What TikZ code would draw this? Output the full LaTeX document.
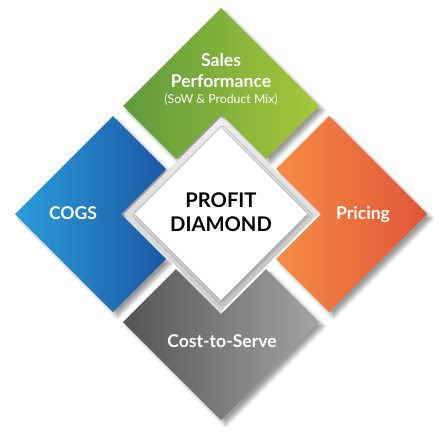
\documentclass[tikz,border=0pt]{standalone}
\usepackage{fontspec}
\setmainfont{Lato}
\usetikzlibrary{shadows.blur}

\definecolor{greenA}{HTML}{5E9A3C}
\definecolor{greenB}{HTML}{A6C83A}
\definecolor{blueA}{HTML}{2B9DDA}
\definecolor{blueB}{HTML}{1B58A4}
\definecolor{orangeA}{HTML}{F68C43}
\definecolor{orangeB}{HTML}{E0553A}
\definecolor{grayA}{HTML}{545456}
\definecolor{grayB}{HTML}{A3A4A6}

\tikzstyle{tile}=[blur shadow={shadow xshift=2.5pt, shadow yshift=-2.5pt, shadow blur steps=10, shadow opacity=40}]
\tikzstyle{greentile}=[tile, left color=greenA, right color=greenB]
\tikzstyle{bluetile}=[tile, left color=blueA, right color=blueB]
\tikzstyle{orangetile}=[tile, left color=orangeA, right color=orangeB]
\tikzstyle{graytile}=[tile, left color=grayA, right color=grayB]
\tikzstyle{tiletext}=[white, font=\bfseries\fontsize{10}{12}\selectfont, align=center, inner sep=0]
\tikzstyle{subtext}=[white, font=\fontsize{7}{8}\selectfont, inner sep=0]
\tikzstyle{centertext}=[black, font=\bfseries\fontsize{11.5}{13.8}\selectfont, align=center, inner sep=0]

\begin{document}
\begin{tikzpicture}[x=0.02cm, y=-0.02cm]
  \useasboundingbox (0,0) rectangle (439,436);
  % four tiles round the centre
  \shade[greentile] (221,8) -- (319,106) -- (266,159) -- (221,114) -- (176,159) -- (123,106) -- cycle;
  \shade[bluetile] (15,214) -- (113,116) -- (166,169) -- (121,214) -- (166,259) -- (113,312) -- cycle;
  \shade[orangetile] (427,214) -- (329,116) -- (276,169) -- (321,214) -- (276,259) -- (329,312) -- cycle;
  \shade[graytile] (221,420) -- (319,322) -- (266,269) -- (221,314) -- (176,269) -- (123,322) -- cycle;
  % centre diamond
  \shade[top color=black!7, bottom color=black!20] (221,117) -- (318,214) -- (221,311) -- (124,214) -- cycle;
  \fill[white, blur shadow={shadow xshift=1pt, shadow yshift=-1pt, shadow blur steps=5, shadow opacity=30}]
    (221,128) -- (307,214) -- (221,300) -- (135,214) -- cycle;
  \node[tiletext] (Sales) at (221,71) {Sales\\Performance};
  \node[subtext] (SalesMix) at (221,100) {(SoW \& Product Mix)};
  \node[tiletext] (Cogs) at (73,213) {COGS};
  \node[tiletext] (Pricing) at (363,215) {Pricing};
  \node[tiletext] (Cost) at (222,341) {Cost-to-Serve};
  \node[centertext] (Profit) at (221,212) {PROFIT\\DIAMOND};
\end{tikzpicture}
\end{document}
